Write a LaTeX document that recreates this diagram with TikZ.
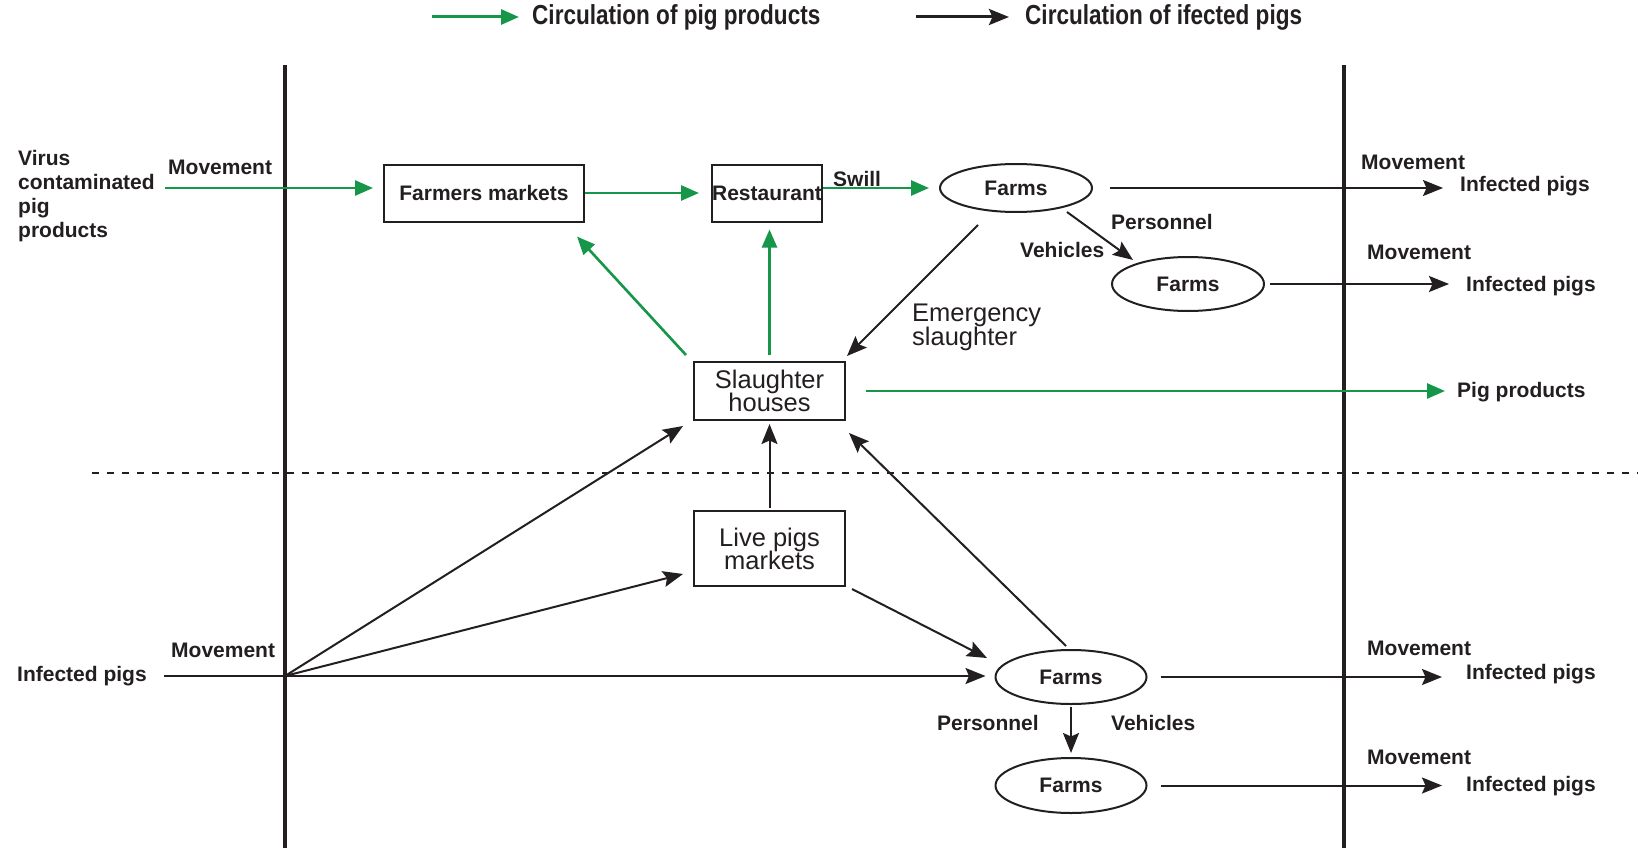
\documentclass[tikz,border=0pt]{standalone}
\usepackage{fontspec}
\setmainfont{Liberation Sans}
\newfontfamily\legfamily[FakeStretch=0.82]{Liberation Sans}
\usetikzlibrary{arrows.meta,shapes.geometric}
\definecolor{pgreen}{RGB}{22,150,72}
\definecolor{pblack}{RGB}{35,31,32}
\newcommand\lblfont{\fontsize{21}{24}\selectfont\bfseries}
\newcommand\regfont{\fontsize{25.5}{23}\selectfont\lineskiplimit=-30pt\lineskip=0pt}
\newcommand\emgfont{\fontsize{25.5}{24}\selectfont\lineskiplimit=-30pt\lineskip=0pt}
\newcommand\legfont{\legfamily\fontsize{27.5}{30}\selectfont\bfseries}
\begin{document}
\begin{tikzpicture}[x=1pt,y=-1pt,
  lbl/.style={font=\lblfont, inner sep=0pt, anchor=west, text=pblack},
  boxtxt/.style={draw=pblack, line width=2pt, inner sep=0pt, align=center, text=pblack},
  farm/.style={ellipse, draw=pblack, line width=2pt, inner sep=0pt, font=\lblfont, text=pblack},
  garrow/.style={draw=pgreen, line width=2.6pt, -{Triangle[length=18pt,width=15pt]}},
  barrow/.style={draw=pblack, line width=2pt, -{Stealth[length=20pt,width=16pt,inset=3.5pt]}},
  vline/.style={draw=pblack, line width=3.5pt}
]
\useasboundingbox[fill=white] (0,0) rectangle (1638,848);

% legend
\node[lbl, font=\legfont] (lg1) at (532,17) {Circulation of pig products};
\node[lbl, font=\legfont] (lg2) at (1025,17) {Circulation of ifected pigs};
\coordinate (lga) at (432,17);
\coordinate (lgb) at (916,17);
\draw[garrow, line width=3pt, shorten >=13pt] (lga) -- (lg1.west);
\draw[barrow, line width=3pt, shorten >=16pt] (lgb) -- (lg2.west);

% frame lines
\draw[vline] (285,65) -- (285,848);
\draw[vline] (1344,65) -- (1344,848);
\draw[pblack, line width=2pt, dash pattern=on 7pt off 8pt] (92,473) -- (1638,473);

% boxes
\node[boxtxt, minimum width=200pt, minimum height=57pt, font=\lblfont] (fm) at (484,193) {Farmers markets};
\node[boxtxt, minimum width=110pt, minimum height=57pt, font=\lblfont] (rest) at (767,193) {Restaurant};
\node[boxtxt, minimum width=151pt, minimum height=58pt, font=\regfont] (sh) at (769.5,391) {Slaughter\\houses};
\node[boxtxt, minimum width=151pt, minimum height=75pt, font=\regfont] (lpm) at (769.5,548.5) {Live pigs\\markets};

% farms
\node[farm, minimum width=152pt, minimum height=48pt] (f1) at (1016,188) {Farms};
\node[farm, minimum width=152pt, minimum height=54pt] (f2) at (1188,284) {Farms};
\node[farm, minimum width=151pt, minimum height=54pt] (f3) at (1071,677) {Farms};
\node[farm, minimum width=151pt, minimum height=55pt] (f4) at (1071,785.5) {Farms};

% labels
\node[lbl, align=left] (virus) at (18,196) {Virus\\contaminated\\pig\\products};
\node[lbl] (mv0) at (168,167) {Movement};
\node[lbl] (swill) at (833,179) {Swill};
\node[lbl] (mv1) at (1361,162) {Movement};
\node[lbl] (ip1) at (1460,186) {Infected pigs};
\node[lbl] (pers1) at (1111,222) {Personnel};
\node[lbl] (veh1) at (1020,250) {Vehicles};
\node[lbl] (mv2) at (1367,252) {Movement};
\node[lbl] (ip2) at (1466,286) {Infected pigs};
\node[lbl, font=\emgfont, align=left] (emg) at (912,327) {Emergency\\slaughter};
\node[lbl] (pp) at (1457,392) {Pig products};
\node[lbl] (mv3) at (171,650) {Movement};
\node[lbl] (ipL) at (17,676) {Infected pigs};
\node[lbl] (mv4) at (1367,648) {Movement};
\node[lbl] (ip3) at (1466,674) {Infected pigs};
\node[lbl] (pers2) at (937,723) {Personnel};
\node[lbl] (veh2) at (1111,723) {Vehicles};
\node[lbl] (mv5) at (1367,757) {Movement};
\node[lbl] (ip4) at (1466,786) {Infected pigs};

% green connectors
\coordinate (vstart) at (165,188);
\draw[garrow, shorten >=10pt] (vstart) -- (vstart -| fm.west);
\draw[garrow, shorten >=12pt] (fm.east) -- (rest.west);
\draw[garrow, shorten >=10pt] (rest.east |- f1.west) -- (f1.west);
\draw[garrow] ([shift={(-7,-6)}]sh.north west) -- ([shift={(-8,14)}]fm.south east);
\draw[garrow, shorten <=6pt, shorten >=7pt] (sh.north) -- (sh.north |- rest.south);
\draw[garrow, shorten <=20pt, shorten >=12pt] (sh.east) -- (sh.east -| pp.west);

% black connectors
\draw[barrow, shorten <=17pt, shorten >=17pt] (f1.east) -- (f1.east -| ip1.west);
\draw[barrow] ([shift={(51,24)}]f1.center) -- ([shift={(-55,-24)}]f2.center);
\draw[barrow, shorten <=5pt, shorten >=17pt] (f2.east) -- (f2.east -| ip2.west);
\draw[barrow] ([shift={(-38,37)}]f1.center) -- ([shift={(1,-5)}]sh.north east);
\coordinate (o) at (285,676);
\draw[barrow, shorten <=17pt, shorten >=9pt] (ipL.east) -- (ipL.east -| f3.west);
\draw[barrow] (o) -- ([shift={(-10,5)}]sh.south west);
\draw[barrow] (o) -- ([shift={(-10,-13)}]lpm.south west);
\draw[barrow] ([shift={(6,2)}]lpm.south east) -- ([shift={(-84,-19)}]f3.center);
\draw[barrow] ([shift={(-5,-3)}]f3.north) -- ([shift={(3,12)}]sh.south east);
\draw[barrow, shorten <=2pt, shorten >=3pt] (lpm.north) -- (sh.south);
\draw[barrow, shorten <=2pt, shorten >=4pt] (f3.south) -- (f4.north);
\draw[barrow, shorten <=13pt, shorten >=24pt] (f3.east) -- (f3.east -| ip3.west);
\draw[barrow, shorten <=13pt, shorten >=24pt] (f4.east) -- (f4.east -| ip4.west);
\end{tikzpicture}
\end{document}
